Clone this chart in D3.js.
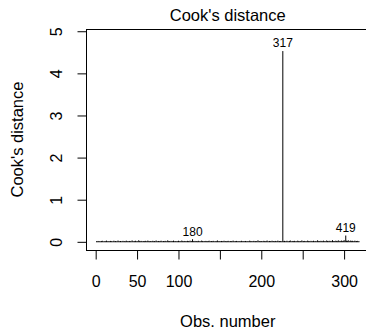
<!DOCTYPE html>
<html>
<head>
<meta charset="utf-8">
<script src="https://cdn.jsdelivr.net/npm/d3@7"></script>
<style>
  html, body { margin: 0; padding: 0; background: #fff; }
  svg text { font-family: "Liberation Sans", Arial, sans-serif; fill: #000; }
</style>
</head>
<body>
<div id="chart"></div>
<script>
var width = 366, height = 329;

// Cook's distance for each observation, in plot order (1..318)
var cook = [
  0.004,0.002,0.011,0.003,0.006,0.001,0.008,0.015,0.003,0.002,0.007,0.004,0.019,0.005,0.002,0.009,0.003,0.012,0.006,0.001,
  0.005,0.017,0.003,0.008,0.002,0.004,0.021,0.006,0.003,0.010,0.002,0.005,0.013,0.004,0.007,0.002,0.018,0.009,0.003,0.006,
  0.011,0.004,0.002,0.024,0.007,0.003,0.005,0.016,0.002,0.008,0.004,0.027,0.006,0.003,0.012,0.005,0.002,0.009,0.004,0.014,
  0.003,0.007,0.020,0.005,0.002,0.010,0.004,0.006,0.015,0.003,0.008,0.002,0.022,0.006,0.004,0.011,0.003,0.007,0.017,0.005,
  0.002,0.009,0.004,0.013,0.006,0.003,0.025,0.005,0.008,0.002,0.012,0.004,0.006,0.019,0.003,0.007,0.010,0.002,0.005,0.016,
  0.004,0.008,0.003,0.021,0.006,0.002,0.011,0.005,0.009,0.003,0.014,0.007,0.004,0.018,0.002,0.010,0.052,0.006,0.003,0.012,
  0.005,0.008,0.002,0.015,0.004,0.007,0.003,0.020,0.006,0.002,0.009,0.004,0.012,0.005,0.003,0.008,0.017,0.002,0.006,0.010,
  0.003,0.013,0.005,0.002,0.007,0.004,0.023,0.006,0.003,0.009,0.002,0.011,0.005,0.004,0.016,0.003,0.008,0.002,0.006,0.014,
  0.004,0.002,0.010,0.005,0.003,0.019,0.007,0.002,0.006,0.012,0.004,0.003,0.008,0.005,0.002,0.015,0.006,0.003,0.009,0.004,
  0.011,0.002,0.005,0.007,0.003,0.018,0.004,0.006,0.002,0.009,0.013,0.003,0.005,0.008,0.002,0.026,0.004,0.007,0.003,0.010,
  0.005,0.002,0.014,0.006,0.003,0.008,0.021,0.004,0.002,0.011,0.006,0.003,0.017,0.005,0.009,0.002,0.012,0.004,0.007,0.019,
  0.003,0.006,0.010,0.002,0.008,4.520,0.005,0.013,0.003,0.007,0.016,0.004,0.002,0.009,0.022,0.005,0.003,0.011,0.006,0.014,
  0.002,0.008,0.004,0.018,0.005,0.003,0.010,0.007,0.024,0.002,0.006,0.012,0.004,0.009,0.003,0.020,0.005,0.007,0.002,0.013,
  0.006,0.004,0.016,0.003,0.008,0.011,0.002,0.027,0.005,0.009,0.004,0.014,0.007,0.003,0.019,0.006,0.010,0.002,0.023,0.008,
  0.004,0.015,0.006,0.012,0.003,0.029,0.007,0.010,0.005,0.018,0.009,0.004,0.025,0.006,0.013,0.008,0.021,0.005,0.011,0.031,
  0.007,0.140,0.016,0.009,0.028,0.004,0.012,0.020,0.006,0.015,0.003,0.010,0.018,0.005,0.008,0.013,0.004,0.006
];

// the three largest get their row names written above them
var idIndex = [117, 226, 302];
var idNames = ["180", "317", "419"];

var xTicks = [0, 50, 100, 150, 200, 250, 300];
var xTickLabels = ["0", "50", "100", "", "200", "", "300"];
var yTicks = [0, 1, 2, 3, 4, 5];

// plot region (right edge runs past the window, as in the original)
var pLeft = 86, pRight = 369.5, pTop = 29, pBottom = 250;

var n = cook.length;
var ymx = d3.max(cook) * 1.075;

var x = d3.scaleLinear()
  .domain([1 - 0.04 * (n - 1), n + 0.04 * (n - 1)])
  .range([pLeft, pRight]);
var y = d3.scaleLinear()
  .domain([-0.04 * ymx, 1.04 * ymx])
  .range([pBottom, pTop]);

var svg = d3.select("#chart").append("svg")
  .attr("width", width)
  .attr("height", height);

svg.append("rect").attr("width", width).attr("height", height).attr("fill", "#fff");

// type = "h" lines
svg.append("g").selectAll("line")
  .data(cook)
  .enter().append("line")
  .attr("x1", function(d, i) { return x(i + 1); })
  .attr("x2", function(d, i) { return x(i + 1); })
  .attr("y1", y(0))
  .attr("y2", function(d) { return y(d); })
  .attr("stroke", "#000")
  .attr("stroke-width", 1)
  .attr("stroke-linecap", "round");

svg.append("g").selectAll("text")
  .data(idIndex)
  .enter().append("text")
  .attr("x", function(d) { return x(d); })
  .attr("y", function(d) { return y(cook[d - 1]) - 4; })
  .attr("text-anchor", "middle")
  .style("font-size", "12px")
  .text(function(d, i) { return idNames[i]; });

// box
svg.append("rect")
  .attr("x", pLeft + 0.5).attr("y", pTop + 0.5)
  .attr("width", pRight - pLeft).attr("height", pBottom - pTop)
  .attr("fill", "none").attr("stroke", "#000").attr("stroke-width", 1);

var xAxis = svg.append("g")
  .attr("transform", "translate(0," + (pBottom + 0.5) + ")")
  .call(d3.axisBottom(x).tickValues(xTicks).tickSize(9).tickSizeOuter(0)
    .tickFormat(function(d, i) { return xTickLabels[i]; }));
xAxis.select(".domain").remove();
xAxis.selectAll("line").attr("stroke", "#000");
xAxis.selectAll("text")
  .attr("y", 36.5).attr("dy", null)
  .style("font-size", "16px").style("font-family", null);

var yAxis = svg.append("g")
  .attr("transform", "translate(" + (pLeft + 0.5) + ",0)")
  .call(d3.axisLeft(y).tickValues(yTicks).tickSize(9).tickSizeOuter(0)
    .tickFormat(d3.format("d")));
yAxis.select(".domain").remove();
yAxis.selectAll("line").attr("stroke", "#000");
yAxis.selectAll("text")
  .attr("x", null).attr("dy", null)
  .attr("text-anchor", "middle")
  .attr("transform", "translate(-25,0) rotate(-90)")
  .style("font-size", "16px").style("font-family", null);

svg.append("text")
  .attr("x", (pLeft + pRight) / 2).attr("y", 20.5)
  .attr("text-anchor", "middle")
  .style("font-size", "16.5px")
  .text("Cook's distance");

svg.append("text")
  .attr("x", (pLeft + pRight) / 2).attr("y", 327)
  .attr("text-anchor", "middle")
  .style("font-size", "16.5px")
  .text("Obs. number");

svg.append("text")
  .attr("transform", "translate(23," + (pTop + pBottom) / 2 + ") rotate(-90)")
  .attr("text-anchor", "middle")
  .style("font-size", "16.5px")
  .text("Cook's distance");
</script>
</body>
</html>
